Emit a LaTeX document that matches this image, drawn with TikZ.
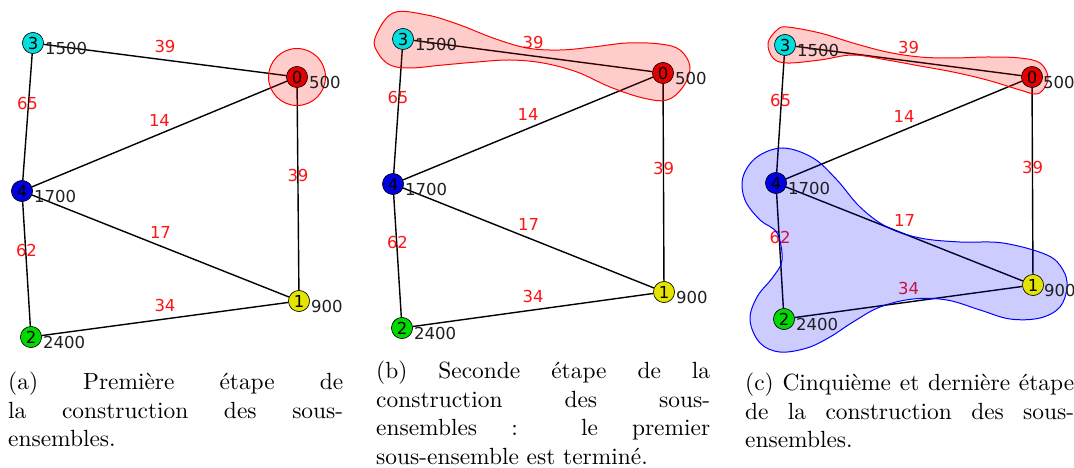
\documentclass[tikz,border=0pt]{standalone}
\usepackage{fontspec}
\newfontfamily\dejavu{DejaVu Sans}
\newfontfamily\capfont{lmroman10-regular.otf}
\usetikzlibrary{calc}
\definecolor{nred}{RGB}{228,0,0}
\definecolor{nyellow}{RGB}{228,228,0}
\definecolor{ngreen}{RGB}{0,218,0}
\definecolor{ncyan}{RGB}{0,222,222}
\definecolor{nblue}{RGB}{0,0,225}
\definecolor{wred}{RGB}{255,20,20}
\tikzset{
  gnode/.style={circle, draw=black, line width=0.5pt, minimum size=21pt, inner sep=0pt, font=\dejavu\fontsize{16.5}{16.5}\selectfont},
  nlbl/.style={anchor=west, inner sep=0pt, font=\dejavu\fontsize{16.5}{16.5}\selectfont, text=black!88},
  wl/.style={pos=0.5, yshift=14pt, inner sep=0pt, font=\dejavu\fontsize{16.5}{16.5}\selectfont, text=wred},
  edge/.style={draw=black, line width=1.4pt},
  redblob/.style={draw=red, line width=1pt, fill=red, fill opacity=0.2},
  blueblob/.style={draw=blue, line width=1pt, fill=blue, fill opacity=0.2},
  capt/.style={anchor=north west, inner sep=0pt, text width=#1, align=justify, font=\capfont\fontsize{23.4}{28.5}\selectfont}
}
\begin{document}
\begin{tikzpicture}[x=1pt,y=-1pt]
\useasboundingbox (0,0) rectangle (1074,468);
% ---------------- panel (a)
\coordinate (a0) at (297,77);
\coordinate (a1) at (299,301);
\coordinate (a2) at (31,337);
\coordinate (a3) at (33,43);
\coordinate (a4) at (22,191);
\node[gnode] (a0) at (a0) {\phantom{0}};
\node[gnode] (a1) at (a1) {\phantom{1}};
\node[gnode] (a2) at (a2) {\phantom{2}};
\node[gnode] (a3) at (a3) {\phantom{3}};
\node[gnode] (a4) at (a4) {\phantom{4}};
\draw[edge] (a3) -- node[wl] {39} (a0);
\draw[edge] (a4) -- node[wl] {14} (a0);
\draw[edge] (a0) -- node[wl] {39} (a1);
\draw[edge] (a4) -- node[wl] {17} (a1);
\draw[edge] (a3) -- node[wl] {65} (a4);
\draw[edge] (a4) -- node[wl] {62} (a2);
\draw[edge] (a2) -- node[wl] {34} (a1);
\draw[redblob] (a0.center) circle (28.5);
\node[nlbl] (a0l) at ($(a0.center)+(12,5)$) {500};
\node[nlbl] (a1l) at ($(a1.center)+(12,5)$) {900};
\node[nlbl] (a2l) at ($(a2.center)+(12,5)$) {2400};
\node[nlbl] (a3l) at ($(a3.center)+(12,5)$) {1500};
\node[nlbl] (a4l) at ($(a4.center)+(12,5)$) {1700};
\node[gnode, fill=nred] at (a0) {0};
\node[gnode, fill=nyellow] at (a1) {1};
\node[gnode, fill=ngreen] at (a2) {2};
\node[gnode, fill=ncyan] at (a3) {3};
\node[gnode, fill=nblue] at (a4) {4};
% ---------------- panel (b)
\coordinate (b0) at (663,73);
\coordinate (b1) at (664,292);
\coordinate (b2) at (402,328);
\coordinate (b3) at (403,39);
\coordinate (b4) at (393,184);
\node[gnode] (b0) at (b0) {\phantom{0}};
\node[gnode] (b1) at (b1) {\phantom{1}};
\node[gnode] (b2) at (b2) {\phantom{2}};
\node[gnode] (b3) at (b3) {\phantom{3}};
\node[gnode] (b4) at (b4) {\phantom{4}};
\draw[edge] (b3) -- node[wl] {39} (b0);
\draw[edge] (b4) -- node[wl] {14} (b0);
\draw[edge] (b0) -- node[wl] {39} (b1);
\draw[edge] (b4) -- node[wl] {17} (b1);
\draw[edge] (b3) -- node[wl] {65} (b4);
\draw[edge] (b4) -- node[wl] {62} (b2);
\draw[edge] (b2) -- node[wl] {34} (b1);
\draw[redblob] plot[smooth cycle, tension=0.6] coordinates {
 (375,38) (393,13) (427,15) (460,25) (493,38) (527,48) (560,50) (593,47)
 (627,43) (660,44) (680,50) (690,67) (683,87) (667,100) (643,98) (610,87)
 (577,72) (543,63) (510,60) (477,62) (443,65) (410,68) (390,65) (378,53)};
\node[nlbl] (b0l) at ($(b0.center)+(12,5)$) {500};
\node[nlbl] (b1l) at ($(b1.center)+(12,5)$) {900};
\node[nlbl] (b2l) at ($(b2.center)+(12,5)$) {2400};
\node[nlbl] (b3l) at ($(b3.center)+(12,5)$) {1500};
\node[nlbl] (b4l) at ($(b4.center)+(12,5)$) {1700};
\node[gnode, fill=nred] at (b0) {0};
\node[gnode, fill=nyellow] at (b1) {1};
\node[gnode, fill=ngreen] at (b2) {2};
\node[gnode, fill=ncyan] at (b3) {3};
\node[gnode, fill=nblue] at (b4) {4};
% ---------------- panel (c)
\coordinate (c0) at (1032,77);
\coordinate (c1) at (1033,285);
\coordinate (c2) at (784,319);
\coordinate (c3) at (785,45);
\coordinate (c4) at (776,183);
\node[gnode] (c0) at (c0) {\phantom{0}};
\node[gnode] (c1) at (c1) {\phantom{1}};
\node[gnode] (c2) at (c2) {\phantom{2}};
\node[gnode] (c3) at (c3) {\phantom{3}};
\node[gnode] (c4) at (c4) {\phantom{4}};
\draw[edge] (c3) -- node[wl] {39} (c0);
\draw[edge] (c4) -- node[wl] {14} (c0);
\draw[edge] (c0) -- node[wl] {39} (c1);
\draw[edge] (c4) -- node[wl] {17} (c1);
\draw[edge] (c3) -- node[wl] {65} (c4);
\draw[edge] (c4) -- node[wl] {62} (c2);
\draw[edge] (c2) -- node[wl] {34} (c1);
\draw[redblob] plot[smooth cycle, tension=0.6] coordinates {
 (768,43) (777,30) (787,27) (820,33) (853,43) (887,52) (920,57) (953,58)
 (987,57) (1020,58) (1040,63) (1048,77) (1043,90) (1035,94) (1020,90)
 (987,80) (953,72) (920,66) (887,60) (853,55) (820,60) (787,63) (773,58)};
\draw[blueblob] plot[smooth cycle, tension=0.6] coordinates {
 (783,148) (813,158) (837,180) (860,207) (887,227) (920,238) (960,242)
 (1003,243) (1047,255) (1063,270) (1067,287) (1060,307) (1040,318)
 (1010,319) (980,310) (947,300) (913,299) (880,307) (853,322) (830,337)
 (807,348) (780,352) (760,343) (750,320) (757,297) (773,277) (782,260)
 (777,233) (760,220) (745,200) (743,177) (757,157)};
\node[nlbl] (c0l) at ($(c0.center)+(11,5)$) {500};
\node[nlbl] (c1l) at ($(c1.center)+(11,5)$) {900};
\node[nlbl] (c2l) at ($(c2.center)+(12,5)$) {2400};
\node[nlbl] (c3l) at ($(c3.center)+(12,5)$) {1500};
\node[nlbl] (c4l) at ($(c4.center)+(12,5)$) {1700};
\node[gnode, fill=nred] at (c0) {0};
\node[gnode, fill=nyellow] at (c1) {1};
\node[gnode, fill=ngreen] at (c2) {2};
\node[gnode, fill=ncyan] at (c3) {3};
\node[gnode, fill=nblue] at (c4) {4};
% ---------------- captions
\node[capt=335pt] (capa) at (8,372) {(a) Première étape de\linebreak la construction des sous-\linebreak ensembles.};
\node[capt=334pt] (capb) at (376,361) {(b) Seconde étape de la\linebreak construction des sous-\linebreak ensembles : le premier\linebreak sous-ensemble est terminé.};
\node[capt=329pt] (capc) at (745,373) {(c) Cinquième et dernière étape\linebreak de la construction des sous-\linebreak ensembles.};
\end{tikzpicture}
\end{document}
